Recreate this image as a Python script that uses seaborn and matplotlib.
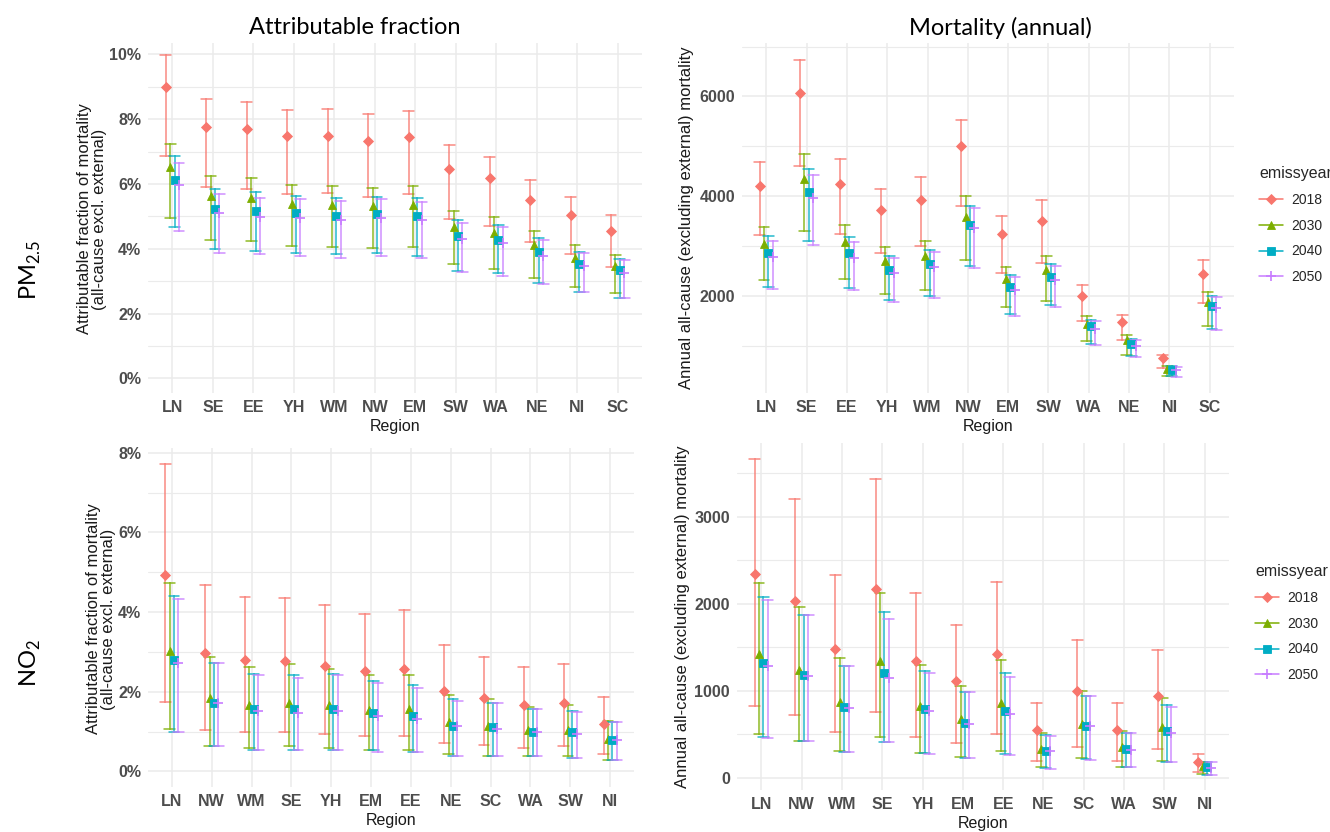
import numpy as np
import pandas as pd
import matplotlib
matplotlib.use("Agg")
import matplotlib.pyplot as plt
import seaborn as sns
from matplotlib.lines import Line2D

# ---------------- data ----------------
YEARS = ["2018", "2030", "2040", "2050"]
COLORS = ["#F8766D", "#7CAE00", "#00ADC4", "#C77CFF"]
MARKERS = ["D", "^", "s", "+"]

PM_REGIONS = ["LN", "SE", "EE", "YH", "WM", "NW", "EM", "SW", "WA", "NE", "NI", "SC"]
NO2_REGIONS = ["LN", "NW", "WM", "SE", "YH", "EM", "EE", "NE", "SC", "WA", "SW", "NI"]

# PM2.5 attributable fraction (%), rows = 2018, 2030, 2040, 2050
PM_AF_MID = [
    [8.99, 7.76, 7.69, 7.48, 7.48, 7.32, 7.44, 6.46, 6.17, 5.51, 5.05, 4.54],
    [6.51, 5.62, 5.57, 5.37, 5.34, 5.31, 5.34, 4.67, 4.49, 4.12, 3.71, 3.46],
    [6.12, 5.22, 5.17, 5.10, 5.01, 5.08, 5.01, 4.40, 4.28, 3.90, 3.53, 3.34],
    [5.97, 5.11, 4.99, 4.95, 4.88, 4.95, 4.88, 4.30, 4.19, 3.79, 3.47, 3.25],
]
PM_AF_LO = [
    [6.87, 5.92, 5.85, 5.68, 5.71, 5.60, 5.68, 4.91, 4.70, 4.21, 3.83, 3.44],
    [4.95, 4.28, 4.24, 4.08, 4.04, 4.01, 4.04, 3.54, 3.39, 3.11, 2.82, 2.64],
    [4.67, 3.98, 3.94, 3.87, 3.84, 3.87, 3.79, 3.31, 3.25, 2.95, 2.67, 2.49],
    [4.56, 3.88, 3.84, 3.79, 3.72, 3.79, 3.72, 3.29, 3.17, 2.91, 2.67, 2.49],
]
PM_AF_HI = [
    [9.98, 8.62, 8.54, 8.29, 8.32, 8.17, 8.26, 7.20, 6.84, 6.11, 5.61, 5.03],
    [7.23, 6.24, 6.18, 5.97, 5.93, 5.89, 5.93, 5.17, 4.97, 4.54, 4.11, 3.82],
    [6.85, 5.83, 5.74, 5.64, 5.56, 5.60, 5.56, 4.88, 4.74, 4.33, 3.89, 3.69],
    [6.65, 5.68, 5.56, 5.53, 5.46, 5.53, 5.43, 4.79, 4.66, 4.26, 3.87, 3.65],
]

# PM2.5 annual mortality
PM_MORT_MID = [
    [4213, 6067, 4253, 3720, 3927, 5000, 3240, 3513, 2013, 1487, 767, 2447],
    [3053, 4353, 3087, 2700, 2800, 3587, 2347, 2533, 1453, 1120, 547, 1880],
    [2867, 4080, 2867, 2533, 2647, 3433, 2180, 2387, 1400, 1047, 533, 1800],
    [2787, 3960, 2760, 2467, 2580, 3367, 2120, 2333, 1353, 1013, 520, 1767],
]
PM_MORT_LO = [
    [3220, 4613, 3253, 2867, 3000, 3813, 2467, 2667, 1513, 1133, 567, 1867],
    [2333, 3313, 2353, 2053, 2120, 2720, 1780, 1913, 1100, 833, 413, 1413],
    [2187, 3113, 2167, 1933, 2000, 2600, 1653, 1820, 1053, 800, 400, 1347],
    [2147, 3020, 2120, 1887, 1960, 2560, 1613, 1780, 1033, 780, 380, 1333],
]
PM_MORT_HI = [
    [4680, 6733, 4753, 4147, 4380, 5533, 3600, 3920, 2233, 1633, 833, 2720],
    [3387, 4847, 3433, 2987, 3113, 4000, 2580, 2800, 1613, 1220, 600, 2080],
    [3200, 4547, 3180, 2800, 2933, 3813, 2420, 2653, 1533, 1147, 600, 2000],
    [3107, 4420, 3087, 2760, 2887, 3760, 2380, 2600, 1513, 1133, 580, 1980],
]

# NO2 attributable fraction (%)
NO2_AF_MID = [
    [4.93, 2.97, 2.80, 2.77, 2.65, 2.53, 2.57, 2.02, 1.84, 1.67, 1.71, 1.20],
    [3.02, 1.84, 1.66, 1.73, 1.66, 1.55, 1.56, 1.23, 1.15, 1.03, 1.05, 0.81],
    [2.80, 1.73, 1.56, 1.56, 1.56, 1.46, 1.38, 1.15, 1.11, 1.00, 0.98, 0.79],
    [2.73, 1.71, 1.52, 1.46, 1.52, 1.40, 1.32, 1.13, 1.07, 0.99, 0.94, 0.78],
]
NO2_AF_LO = [
    [1.75, 1.05, 0.99, 0.99, 0.95, 0.90, 0.90, 0.71, 0.66, 0.59, 0.63, 0.43],
    [1.07, 0.64, 0.59, 0.63, 0.59, 0.53, 0.53, 0.43, 0.40, 0.38, 0.38, 0.29],
    [0.99, 0.63, 0.54, 0.54, 0.54, 0.53, 0.48, 0.40, 0.40, 0.38, 0.35, 0.29],
    [0.99, 0.63, 0.53, 0.54, 0.54, 0.50, 0.48, 0.40, 0.40, 0.38, 0.35, 0.29],
]
NO2_AF_HI = [
    [7.73, 4.67, 4.39, 4.36, 4.19, 3.96, 4.06, 3.18, 2.88, 2.62, 2.71, 1.88],
    [4.72, 2.88, 2.62, 2.70, 2.58, 2.42, 2.42, 1.91, 1.81, 1.63, 1.66, 1.27],
    [4.41, 2.73, 2.44, 2.42, 2.44, 2.28, 2.16, 1.81, 1.71, 1.56, 1.52, 1.24],
    [4.33, 2.73, 2.42, 2.35, 2.42, 2.22, 2.09, 1.77, 1.71, 1.56, 1.49, 1.24],
]

# NO2 annual mortality
NO2_MORT_MID = [
    [2339, 2033, 1483, 2174, 1349, 1116, 1429, 550, 997, 550, 944, 187],
    [1421, 1242, 875, 1349, 829, 676, 864, 329, 619, 352, 581, 134],
    [1326, 1181, 818, 1200, 787, 634, 772, 306, 600, 332, 535, 122],
    [1288, 1169, 806, 1146, 764, 615, 737, 306, 592, 321, 516, 115],
]
NO2_MORT_LO = [
    [829, 722, 523, 760, 474, 401, 504, 199, 355, 199, 332, 65],
    [500, 428, 313, 474, 287, 237, 306, 122, 229, 122, 199, 46],
    [466, 420, 294, 416, 287, 225, 275, 111, 218, 122, 187, 38],
    [459, 420, 294, 409, 279, 225, 267, 103, 210, 122, 187, 38],
]
NO2_MORT_HI = [
    [3665, 3206, 2335, 3435, 2121, 1754, 2251, 860, 1582, 860, 1471, 279],
    [2239, 1964, 1383, 2128, 1303, 1058, 1360, 516, 993, 543, 913, 180],
    [2079, 1872, 1288, 1907, 1227, 990, 1211, 493, 944, 516, 837, 180],
    [2044, 1872, 1288, 1830, 1211, 982, 1162, 478, 936, 516, 818, 180],
]


def long_df(regions, mid, lo, hi):
    rows = []
    for yi, year in enumerate(YEARS):
        for ri, reg in enumerate(regions):
            for v in (lo[yi][ri], mid[yi][ri], hi[yi][ri]):
                rows.append({"Region": reg, "emissyear": year, "value": v})
    return pd.DataFrame(rows)


# ---------------- figure ----------------
sns.set_theme(style="white")
plt.rcParams["font.family"] = ["Liberation Sans", "DejaVu Sans"]
plt.rcParams["mathtext.fontset"] = "custom"
plt.rcParams["mathtext.rm"] = "Lato"

W, H = 1330, 832
fig = plt.figure(figsize=(W / 100, H / 100), dpi=100)
fig.patch.set_facecolor("white")


def rect(l, t, r, b):
    return [l / W, 1 - b / H, (r - l) / W, (b - t) / H]


TICK_C = "#4D4D4D"
GRID_C = "#EBEBEB"
MSIZE = {"D": 4.8, "^": 5.6, "s": 5.5, "+": 6.5}


def panel(box, df, regions, ylim, major, minor, pct):
    ax = fig.add_axes(rect(*box))
    sns.pointplot(
        data=df, x="Region", y="value", hue="emissyear",
        order=regions, hue_order=YEARS, palette=COLORS, markers=MARKERS,
        linestyle="none", estimator="median",
        errorbar=lambda v: (v.min(), v.max()),
        dodge=0.33, capsize=0.27, err_kws={"linewidth": 1.1, "alpha": 0.85},
        legend=False, ax=ax,
    )
    for ln in ax.lines:
        m = ln.get_marker()
        if m in MSIZE:
            ln.set_markersize(MSIZE[m])
            ln.set_markeredgewidth(1.2 if m == "+" else 0.6)
            ln.set_zorder(5)
    ax.set_ylim(*ylim)
    ax.set_xlim(-0.6, len(regions) - 0.4)
    fmt = (lambda v: f"{v:.0f}%") if pct else (lambda v: f"{v:.0f}")
    ax.set_yticks(major)
    ax.set_yticklabels([fmt(v) for v in major], fontweight="bold")
    ax.set_yticks(minor, minor=True)
    ax.set_xticks(range(len(regions)))
    ax.set_xticklabels(regions, fontweight="bold")
    ax.set_axisbelow(True)
    ax.grid(which="major", color=GRID_C, linewidth=1.1)
    ax.grid(which="minor", axis="y", color=GRID_C, linewidth=0.8)
    for s in ax.spines.values():
        s.set_visible(False)
    ax.tick_params(which="both", length=0, pad=5, labelsize=11.5, labelcolor=TICK_C)
    ax.set_ylabel("")
    ax.set_xlabel("Region", fontsize=11.5, color="#1A1A1A", labelpad=3)
    return ax


panel((148, 43, 642, 393), long_df(PM_REGIONS, PM_AF_MID, PM_AF_LO, PM_AF_HI),
      PM_REGIONS, (-0.45, 10.35), [0, 2, 4, 6, 8, 10], [1, 3, 5, 7, 9], True)
panel((742, 43, 1234, 393), long_df(PM_REGIONS, PM_MORT_MID, PM_MORT_LO, PM_MORT_HI),
      PM_REGIONS, (70, 7070), [2000, 4000, 6000], [1000, 3000, 5000, 7000], False)
panel((148, 448, 634, 787), long_df(NO2_REGIONS, NO2_AF_MID, NO2_AF_LO, NO2_AF_HI),
      NO2_REGIONS, (-0.39, 8.12), [0, 2, 4, 6, 8], [1, 3, 5, 7], True)
panel((737, 443, 1229, 790), long_df(NO2_REGIONS, NO2_MORT_MID, NO2_MORT_LO, NO2_MORT_HI),
      NO2_REGIONS, (-140, 3850), [0, 1000, 2000, 3000], [500, 1500, 2500, 3500], False)

# y-axis titles
ylab_af = "Attributable fraction of mortality\n(all-cause excl. external)"
ylab_mort = "Annual all-cause (excluding external) mortality"
fig.text(92 / W, 1 - 219 / H, ylab_af, rotation=90, ha="center", va="center",
         fontsize=12, color="#1A1A1A", multialignment="center", linespacing=1.0)
fig.text(687 / W, 1 - 218 / H, ylab_mort, rotation=90, ha="center", va="center",
         fontsize=12, color="#1A1A1A")
fig.text(101 / W, 1 - 619 / H, ylab_af, rotation=90, ha="center", va="center",
         fontsize=12, color="#1A1A1A", multialignment="center", linespacing=1.0)
fig.text(683 / W, 1 - 617 / H, ylab_mort, rotation=90, ha="center", va="center",
         fontsize=12, color="#1A1A1A")

# column and row headers
fig.text(355 / W, 1 - 28 / H, "Attributable fraction", ha="center", va="center",
         fontsize=17, family=["Lato", "DejaVu Sans"], color="black")
fig.text(1000 / W, 1 - 28 / H, "Mortality (annual)", ha="center", va="center",
         fontsize=17, family=["Lato", "DejaVu Sans"], color="black")
fig.text(30 / W, 1 - 270 / H, r"PM$_{\mathregular{2.5}}$", rotation=90, ha="center", va="center",
         fontsize=17, family=["Lato", "DejaVu Sans"], color="black")
fig.text(30 / W, 1 - 663 / H, r"NO$_{\mathregular{2}}$", rotation=90, ha="center", va="center",
         fontsize=17, family=["Lato", "DejaVu Sans"], color="black")

# legends
handles = [Line2D([0], [0], color=c, marker=m, linestyle="-", linewidth=1.1,
                  markersize=MSIZE[m], markeredgewidth=(1.2 if m == "+" else 0.6))
           for c, m in zip(COLORS, MARKERS)]
for top, left in ((159, 1252), (557, 1248)):
    leg = fig.legend(handles, YEARS, title="emissyear", loc="upper left",
                     bbox_to_anchor=(left / W, 1 - top / H), frameon=False,
                     fontsize=10, title_fontsize=11.5, handlelength=1.7,
                     labelspacing=0.85, handletextpad=0.6, alignment="left",
                     borderpad=0.0)

fig.savefig("out.png", dpi=100, facecolor="white")
